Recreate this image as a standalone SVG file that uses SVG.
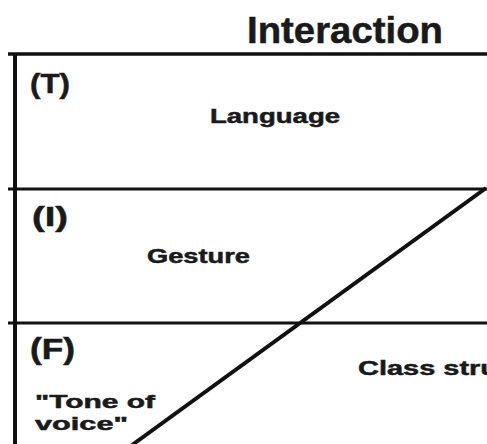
<svg xmlns="http://www.w3.org/2000/svg" width="487" height="444" viewBox="0 0 487 444">
<style>
.t{font-family:"Liberation Sans",Arial,sans-serif;font-weight:bold;fill:#1a1a1a;stroke:#1a1a1a;stroke-width:0.5}
.ln{stroke:#111;fill:none}
</style>
<rect width="487" height="444" fill="#fff"/>
<g id="title"><text class="t" x="247" y="43" font-size="37" textLength="196" lengthAdjust="spacingAndGlyphs">Interaction</text></g>
<g id="connectors">
<line class="ln" x1="8" y1="54" x2="487" y2="54" stroke-width="3.5"/>
<line class="ln" x1="8" y1="189" x2="487" y2="189" stroke-width="3"/>
<line class="ln" x1="8" y1="323" x2="487" y2="323" stroke-width="3"/>
<line class="ln" x1="15" y1="55" x2="15" y2="444" stroke-width="4"/>
<line class="ln" x1="486" y1="188" x2="132" y2="445" stroke-width="4"/>
</g>
<g id="row-T">
<text class="t" x="30" y="93" font-size="27" textLength="40" lengthAdjust="spacingAndGlyphs">(T)</text>
<text class="t" x="210" y="123" font-size="20" textLength="130" lengthAdjust="spacingAndGlyphs">Language</text>
</g>
<g id="row-I">
<text class="t" x="32" y="226" font-size="27" textLength="36" lengthAdjust="spacingAndGlyphs">(I)</text>
<text class="t" x="147" y="263" font-size="21" textLength="103" lengthAdjust="spacingAndGlyphs">Gesture</text>
</g>
<g id="row-F">
<text class="t" x="30" y="359" font-size="29" textLength="45" lengthAdjust="spacingAndGlyphs">(F)</text>
<text class="t" x="358" y="375" font-size="21" textLength="140" lengthAdjust="spacingAndGlyphs">Class stru</text>
<text class="t" x="35" y="408" font-size="18" textLength="120" lengthAdjust="spacingAndGlyphs">"Tone of</text>
<text class="t" x="35" y="430" font-size="18" textLength="93" lengthAdjust="spacingAndGlyphs">voice"</text>
</g>
</svg>
